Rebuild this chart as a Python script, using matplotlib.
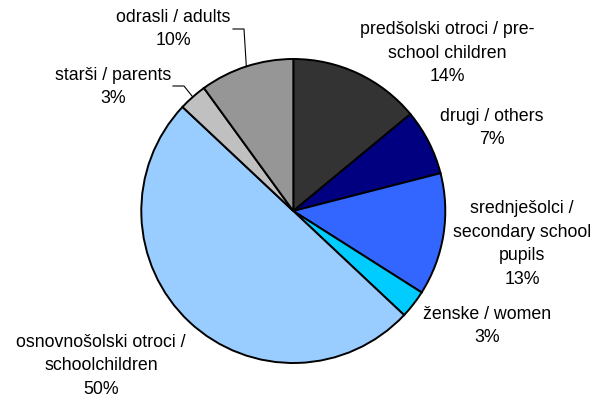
import matplotlib
matplotlib.use('Agg')
import matplotlib.pyplot as plt
import numpy as np

# Shares by group, clockwise from 12 o'clock
labels = ['predšolski otroci / pre-\nschool children',
          'drugi / others',
          'srednješolci /\nsecondary school\npupils',
          'ženske / women',
          'osnovnošolski otroci /\nschoolchildren',
          'starši / parents',
          'odrasli / adults']
shares = [14, 7, 13, 3, 50, 3, 10]
colors = ['#333333', '#000080', '#3366FF', '#00CCFF', '#99CCFF', '#C0C0C0', '#969696']

W, H = 595, 401
# label anchor (centre of text block) in pixels from top-left
label_pos = [(447, 53), (492, 128), (522, 244), (487, 326), (101, 366), (113, 87), (173, 29)]
# slices that get a leader line, with the text-side start point
leaders = {5: (173, 86), 6: (233, 29)}

plt.rcParams['font.family'] = ['Liberation Sans', 'DejaVu Sans']

fig = plt.figure(figsize=(W / 100, H / 100), dpi=100)
ax = fig.add_axes([0, 0, 1, 1])

cx, cy, r = 293.3, H - 211, 152
wedges, _ = ax.pie(shares, colors=colors, startangle=90, counterclock=False,
                   center=(cx, cy), radius=r,
                   wedgeprops=dict(edgecolor='black', linewidth=1.4))
ax.set_xlim(0, W)
ax.set_ylim(0, H)
ax.set_aspect('equal')
ax.axis('off')

total = float(sum(shares))
cum = np.cumsum([0] + shares)
for i, (lab, val) in enumerate(zip(labels, shares)):
    x, y = label_pos[i]
    ax.text(x, H - y, f'{lab}\n{val}%', ha='center', va='center',
            fontsize=12.8, linespacing=1.49, color='black')
    if i in leaders:
        mid = (cum[i] + cum[i + 1]) / 2 / total * 360
        ang = np.deg2rad(90 - mid)
        ex = cx + r * np.cos(ang)
        ey = cy + r * np.sin(ang)
        sx, sy = leaders[i]
        ax.plot([sx, sx + 11, ex], [H - sy, H - sy, ey], color='black', linewidth=0.8)

fig.savefig('out.png', dpi=100)
